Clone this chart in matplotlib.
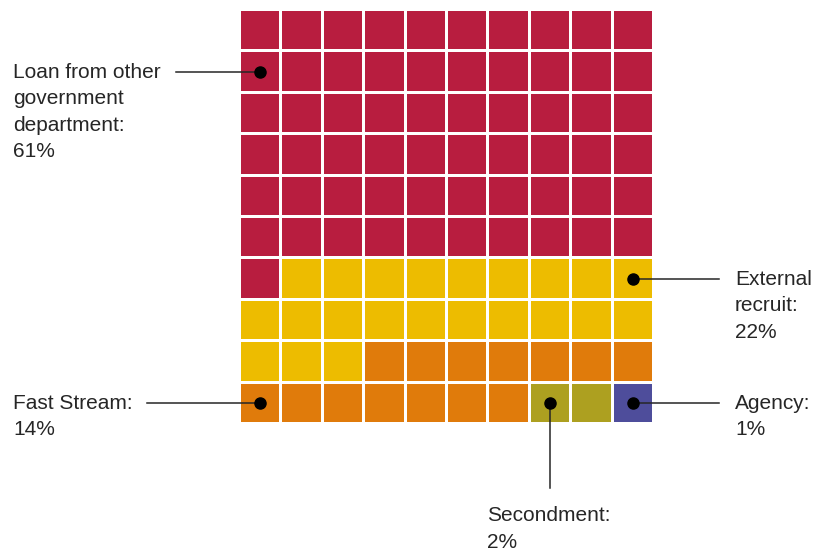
import matplotlib.pyplot as plt
from matplotlib.patches import Rectangle

plt.rcParams['font.family'] = ['Liberation Sans', 'DejaVu Sans']

# share of new starters by route, in percent (one square each)
routes = ['Loan from other government department', 'External recruit',
          'Fast Stream', 'Secondment', 'Agency']
shares = [61, 22, 14, 2, 1]
colours = ['#B81D3F', '#EDBC00', '#E07B0B', '#ADA020', '#4E4D9B']

# label lines and which square the pointer dot sits on
labels = [['Loan from other', 'government', 'department:', '61%'],
          ['External', 'recruit:', '22%'],
          ['Fast Stream:', '14%'],
          ['Secondment:', '2%'],
          ['Agency:', '1%']]
dot_cells = [10, 69, 90, 97, 99]

ncols = 10
x0, y0 = 241, 11       # top-left of the grid, pixels
pitch, size = 41.4, 38.4

fig = plt.figure(figsize=(8.16, 5.5), dpi=100)
ax = fig.add_axes([0, 0, 1, 1])
ax.set_xlim(0, 816)
ax.set_ylim(550, 0)
ax.axis('off')


def cell_xy(i):
    r, c = divmod(i, ncols)
    return x0 + c * pitch, y0 + r * pitch


i = 0
for share, col in zip(shares, colours):
    for _ in range(share):
        x, y = cell_xy(i)
        ax.add_patch(Rectangle((x, y), size, size, facecolor=col, edgecolor='none'))
        i += 1


def centre(i):
    x, y = cell_xy(i)
    return x + size / 2, y + size / 2


ink = '#262626'


def label(x, baseline, lines):
    for n, s in enumerate(lines):
        ax.text(x, baseline + n * 26.5, s, fontsize=15, color=ink,
                ha='left', va='baseline')


# Loan
cx, cy = centre(dot_cells[0])
ax.plot([176, cx], [cy, cy], color=ink, lw=1.1)
label(13, cy + 6, labels[0])

# External recruit
cx, cy = centre(dot_cells[1])
ax.plot([cx, 719], [cy, cy], color=ink, lw=1.1)
label(735, cy + 6, labels[1])

# Fast Stream
cx, cy = centre(dot_cells[2])
ax.plot([147, cx], [cy, cy], color=ink, lw=1.1)
label(13, cy + 6, labels[2])

# Secondment
cx, cy = centre(dot_cells[3])
ax.plot([cx, cx], [cy, 488], color=ink, lw=1.1)
label(487, 521, labels[3])

# Agency
cx, cy = centre(dot_cells[4])
ax.plot([cx, 719], [cy, cy], color=ink, lw=1.1)
label(735, cy + 6, labels[4])

for k in dot_cells:
    cx, cy = centre(k)
    ax.plot(cx, cy, 'o', color='black', ms=8)

fig.savefig('out.png', dpi=100)
